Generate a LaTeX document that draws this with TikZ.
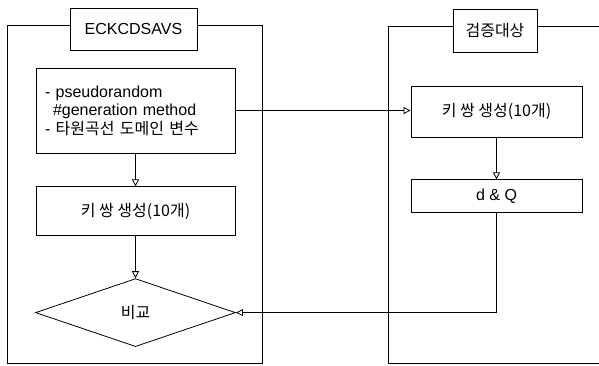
\documentclass[tikz,border=0pt]{standalone}
\usepackage{fontspec}
\setmainfont{Liberation Sans}
\newfontfamily\kr{Noto Sans CJK KR}
\usetikzlibrary{positioning,shapes.geometric,arrows.meta}

\begin{document}
\begin{tikzpicture}[x=1pt, y=-1pt, line width=0.8pt,
  font=\fontsize{16}{18.5}\selectfont,
  box/.style={draw, rectangle, inner sep=0pt},
  tri/.style={-{Triangle[open,length=7pt,width=7pt]}}]
  \useasboundingbox (0,0) rectangle (599,365);

  \node[box, minimum width=127pt, minimum height=42pt] (T1) at (133.5,29) {ECKCDSAVS};
  \node[box, minimum width=84pt, minimum height=43pt] (T2) at (495,30.5) {\kr 검증대상};

  \node[box, text width=181pt, inner xsep=9pt, align=left, minimum height=85pt] (gen) at (135.5,110.5)
    {- pseudorandom\\ \hspace*{8pt}\#generation method\\ - {\kr 타원곡선 도메인 변수}};
  \node[box, minimum width=199pt, minimum height=49pt] (gen1) [below=33pt of gen] {\kr 키 쌍 생성(10개)};
  \node[draw, diamond, aspect=2.9, inner sep=0pt, minimum width=200pt, minimum height=68pt] (cmp) [below=42pt of gen1] {\kr 비교};

  \node[box, minimum width=171pt, minimum height=51pt] (gen2) at (496.5,111.5) {\kr 키 쌍 생성(10개)};
  \node[box, minimum width=171pt, minimum height=33pt] (dq) [below=42pt of gen2] {d \& Q};

  % frames
  \draw ([yshift=4pt]T1.west) -| (7,363) -| (262,25) -- ([yshift=4pt]T1.east);
  \draw ([yshift=4.5pt]T2.west) -| (388,363) -- (599,363);
  \draw ([yshift=4.5pt]T2.east) -- (599,26);

  \draw[tri] (gen.east) -- (gen.east -| gen2.west);
  \draw[tri] (gen) -- (gen1);
  \draw[tri] (gen1) -- (cmp);
  \draw[tri] (gen2) -- (dq);
  \draw[tri] (dq.south) |- (cmp.east);
\end{tikzpicture}
\end{document}
